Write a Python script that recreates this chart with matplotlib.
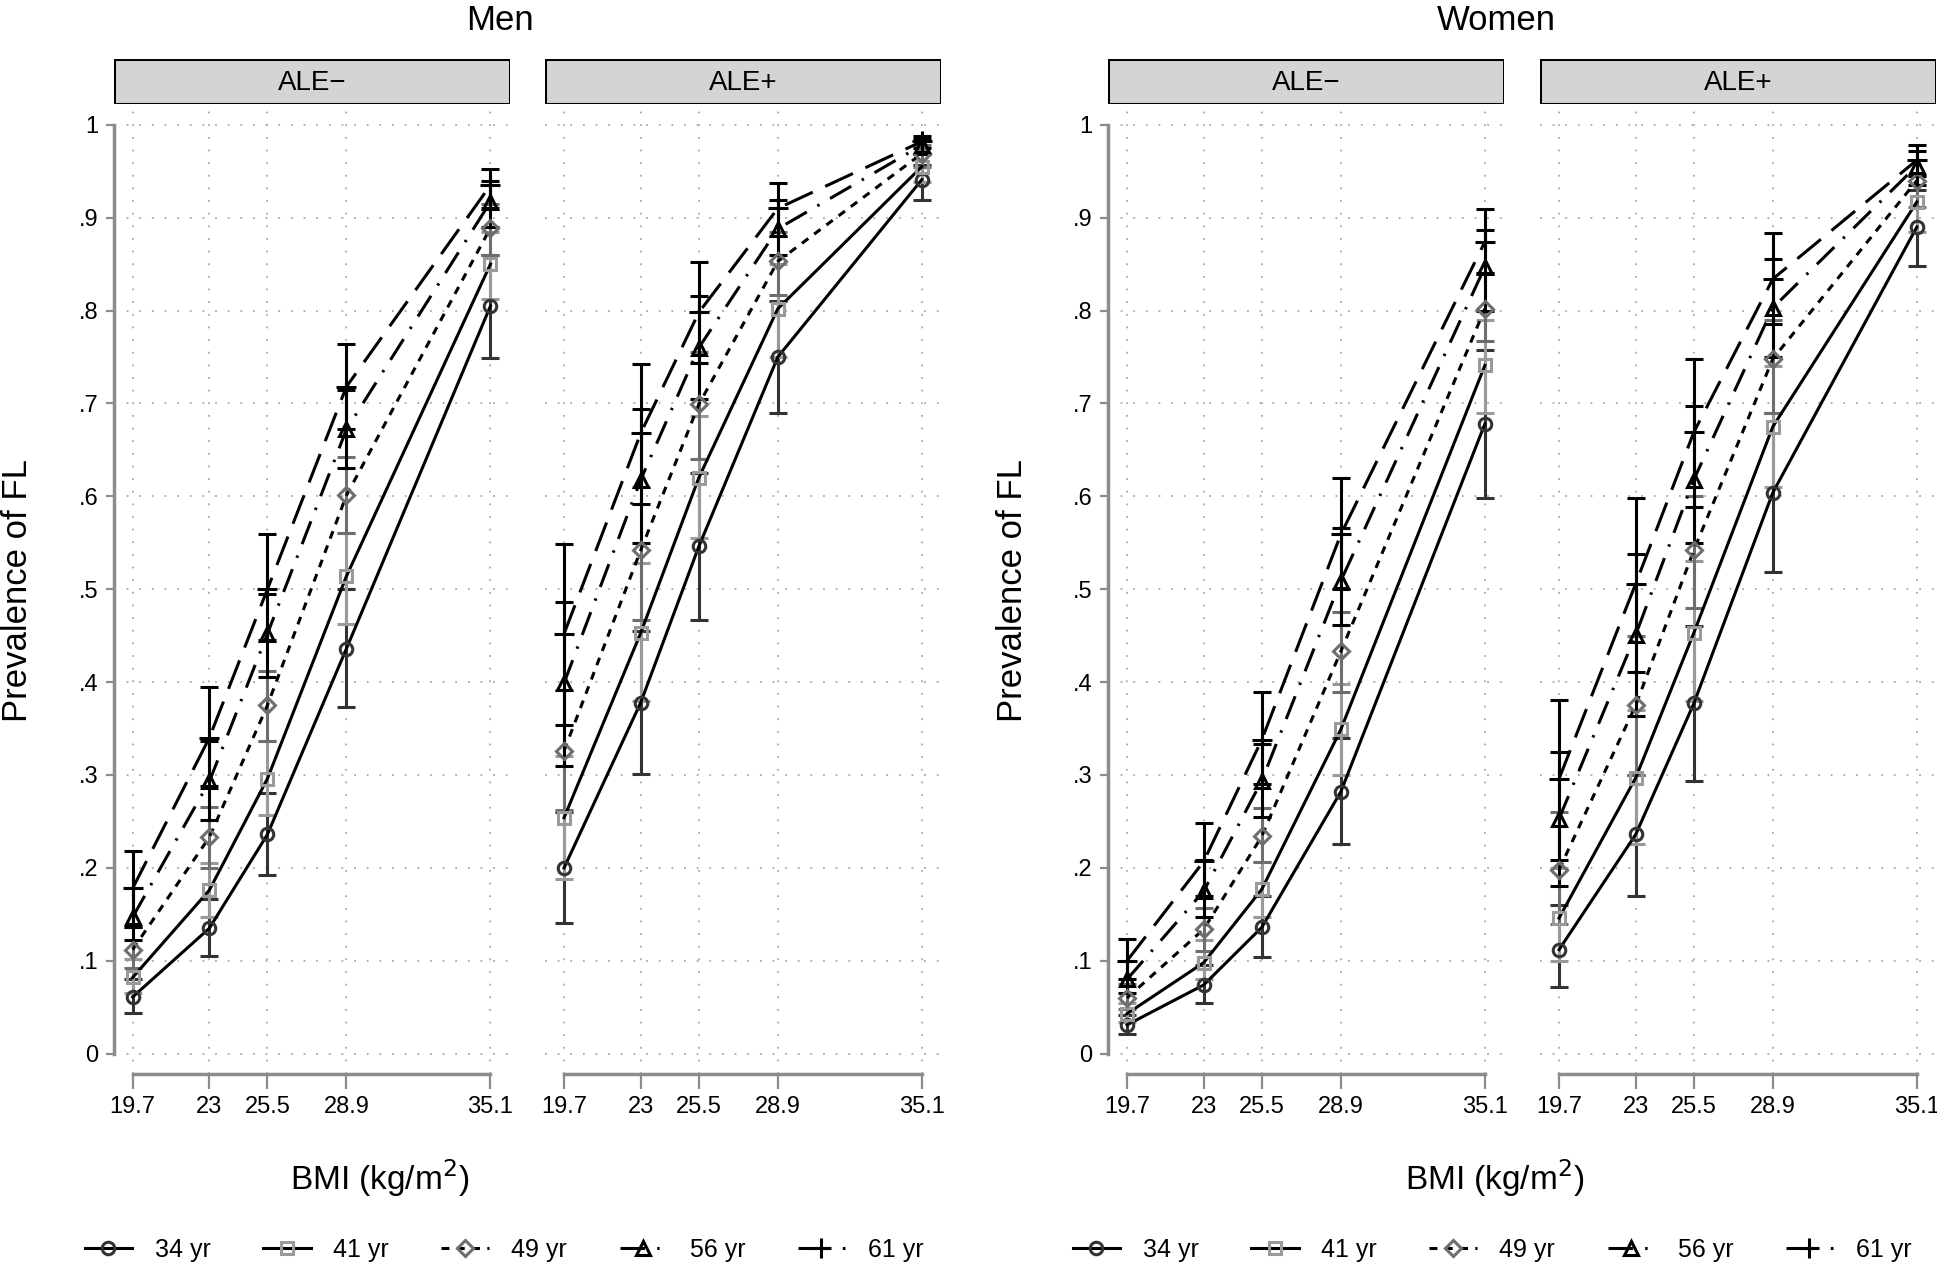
import numpy as np
import matplotlib
matplotlib.use("Agg")
import matplotlib.pyplot as plt
from matplotlib.lines import Line2D
from matplotlib.patches import Rectangle

plt.rcParams['font.family'] = ['Liberation Sans Narrow', 'Liberation Sans', 'DejaVu Sans']

# --- data ---
bmi = [19.7, 23, 25.5, 28.9, 35.1]
bmi_labels = ['19.7', '23', '25.5', '28.9', '35.1']
ages = ['34 yr', '41 yr', '49 yr', '56 yr', '61 yr']

# Men, ALE-
men_neg = [[.061, .135, .236, .436, .805],
           [.082, .176, .296, .514, .850],
           [.112, .233, .375, .601, .889],
           [.147, .293, .452, .672, .917],
           [.178, .340, .500, .718, .935]]
men_neg_lo = [[.044, .105, .192, .373, .749],
              [.065, .147, .257, .463, .812],
              [.092, .200, .337, .560, .860],
              [.122, .252, .405, .630, .890],
              [.136, .288, .445, .672, .910]]
men_neg_hi = [[.080, .166, .281, .500, .860],
              [.102, .205, .337, .560, .885],
              [.136, .266, .412, .642, .915],
              [.178, .337, .495, .715, .940],
              [.218, .395, .559, .764, .952]]

# Men, ALE+
men_pos = [[.200, .378, .546, .750, .941],
           [.254, .453, .620, .802, .955],
           [.326, .542, .699, .853, .969],
           [.399, .618, .760, .888, .978],
           [.452, .668, .798, .910, .982]]
men_pos_lo = [[.141, .301, .467, .690, .919],
              [.188, .380, .555, .750, .938],
              [.262, .467, .640, .817, .955],
              [.310, .550, .705, .860, .968],
              [.354, .592, .743, .880, .975]]
men_pos_hi = [[.260, .455, .625, .810, .957],
              [.320, .528, .687, .850, .968],
              [.392, .610, .755, .885, .978],
              [.486, .694, .816, .919, .985],
              [.549, .742, .852, .937, .988]]

# Women, ALE-
women_neg = [[.031, .074, .136, .282, .678],
             [.043, .098, .177, .349, .741],
             [.060, .134, .234, .433, .802],
             [.080, .175, .294, .509, .847],
             [.100, .207, .338, .559, .874]]
women_neg_lo = [[.021, .054, .104, .226, .598],
                [.034, .080, .147, .300, .690],
                [.048, .110, .206, .389, .767],
                [.065, .147, .255, .462, .800],
                [.080, .170, .290, .500, .840]]
women_neg_hi = [[.042, .095, .170, .340, .757],
                [.055, .122, .206, .398, .790],
                [.075, .157, .264, .475, .840],
                [.100, .209, .333, .566, .887],
                [.123, .248, .389, .620, .909]]

# Women, ALE+
women_pos = [[.112, .236, .377, .604, .890],
             [.146, .297, .453, .675, .917],
             [.198, .375, .542, .748, .940],
             [.253, .451, .618, .803, .956],
             [.296, .506, .669, .834, .962]]
women_pos_lo = [[.072, .170, .294, .518, .848],
                [.100, .226, .380, .610, .885],
                [.140, .300, .480, .690, .912],
                [.180, .364, .550, .750, .935],
                [.209, .411, .589, .785, .945]]
women_pos_hi = [[.160, .300, .460, .690, .930],
                [.200, .370, .530, .740, .945],
                [.260, .450, .600, .790, .962],
                [.325, .538, .697, .855, .972],
                [.381, .598, .748, .884, .978]]

# --- styles ---
markers = ['o', 's', 'D', '^', '+']
mcolors = ['#333333', '#9a9a9a', '#6e6e6e', '#000000', '#000000']
msizes = [9, 9, 8, 10, 14]
dashes = [None, None, (2.6, 2.4), (8, 4, 0.8, 4), (10, 4.5)]
axis_gray = '#8c8c8c'

fig = plt.figure(figsize=(19.37, 12.66), dpi=100)

W, H = 1937, 1266
ax_bottom = 1 - 1074 / H
ax_top = 1 - 108.7 / H
strip_bottom = 1 - 103.8 / H
strip_top = 1 - 59.3 / H
lefts = [113.6, 545, 1108, 1540]
width_px = 396.4

panels = [(men_neg, men_neg_lo, men_neg_hi, 'ALE\u2212', True),
          (men_pos, men_pos_lo, men_pos_hi, 'ALE+', False),
          (women_neg, women_neg_lo, women_neg_hi, 'ALE\u2212', True),
          (women_pos, women_pos_lo, women_pos_hi, 'ALE+', False)]

for (est, lo, hi, strip, show_y), left in zip(panels, lefts):
    ax = fig.add_axes([left / W, ax_bottom, width_px / W, ax_top - ax_bottom])
    est = np.array(est)
    lo = np.array(lo)
    hi = np.array(hi)
    # intervalles de confiance
    for i in range(5):
        ax.errorbar(bmi, est[i], yerr=[est[i] - lo[i], hi[i] - est[i]], fmt='none',
                    ecolor=mcolors[i], elinewidth=2.2, capsize=6.5, capthick=2.2, zorder=3)
    # courbes + marqueurs
    for i in range(5):
        ln, = ax.plot(bmi, est[i], color='black', lw=2.2, zorder=4)
        if dashes[i] is not None:
            ln.set_dashes(dashes[i])
        ax.plot(bmi, est[i], ls='none', marker=markers[i], ms=msizes[i], mfc='none',
                mec=mcolors[i], mew=2.2, zorder=5)

    ax.set_xlim(18.88, 35.94)
    ax.set_ylim(-0.0219, 1.0173)
    ax.set_xticks(bmi)
    ax.set_xticklabels(bmi_labels, fontsize=17)
    yt = np.round(np.arange(0, 1.01, 0.1), 1)
    ax.set_yticks(yt)
    ax.set_yticklabels(['0'] + ['.%d' % k for k in range(1, 10)] + ['1'], fontsize=17)
    ax.grid(True, color='#a8a8a8', lw=1.3, linestyle=(0, (1, 6)))
    ax.set_axisbelow(True)
    for s in ['top', 'right']:
        ax.spines[s].set_visible(False)
    ax.spines['bottom'].set_color(axis_gray)
    ax.spines['bottom'].set_linewidth(2.5)
    ax.spines['bottom'].set_bounds(bmi[0], bmi[-1])
    ax.tick_params(axis='x', direction='out', length=11, width=1.6, color=axis_gray, pad=5)
    if show_y:
        ax.spines['left'].set_color(axis_gray)
        ax.spines['left'].set_linewidth(2.5)
        ax.spines['left'].set_bounds(0, 1)
        ax.tick_params(axis='y', direction='out', length=6, width=1.6, color=axis_gray, pad=5)
    else:
        ax.spines['left'].set_visible(False)
        ax.tick_params(axis='y', length=0, labelleft=False)

    # bandeau du titre de panneau
    sax = fig.add_axes([left / W, strip_bottom, width_px / W, strip_top - strip_bottom])
    sax.set_xticks([])
    sax.set_yticks([])
    sax.add_patch(Rectangle((0, 0), 1, 1, transform=sax.transAxes, facecolor='#d4d4d4',
                            edgecolor='black', lw=2.2))
    for s in sax.spines.values():
        s.set_visible(False)
    sax.text(0.5, 0.47, strip, ha='center', va='center', fontsize=20, transform=sax.transAxes)

# titres et labels
fig.text(500 / W, 1 - 20 / H, 'Men', ha='center', va='center', fontsize=25)
fig.text(1496 / W, 1 - 20 / H, 'Women', ha='center', va='center', fontsize=25)
fig.text(18 / W, 1 - 590 / H, 'Prevalence of FL', ha='center', va='center', rotation=90, fontsize=25)
fig.text(1012 / W, 1 - 590 / H, 'Prevalence of FL', ha='center', va='center', rotation=90, fontsize=25)
fig.text(380 / W, 1 - 1178 / H, 'BMI (kg/m$^2$)', ha='center', va='center', fontsize=24)
fig.text(1495 / W, 1 - 1178 / H, 'BMI (kg/m$^2$)', ha='center', va='center', fontsize=24)

# legendes
handles = []
for i in range(5):
    h = Line2D([], [], color='black', lw=2.2, marker=markers[i], ms=msizes[i], mfc='none',
               mec=mcolors[i], mew=2.2)
    if dashes[i] is not None:
        h.set_dashes(dashes[i])
    handles.append(h)

for cx in [504, 1492]:
    fig.legend(handles, ages, loc='center', bbox_to_anchor=(cx / W, 1 - 1250 / H), ncol=5,
               frameon=False, fontsize=18, handlelength=1.9, handletextpad=0.9,
               columnspacing=2.1)

fig.savefig('out.png', dpi=100)
